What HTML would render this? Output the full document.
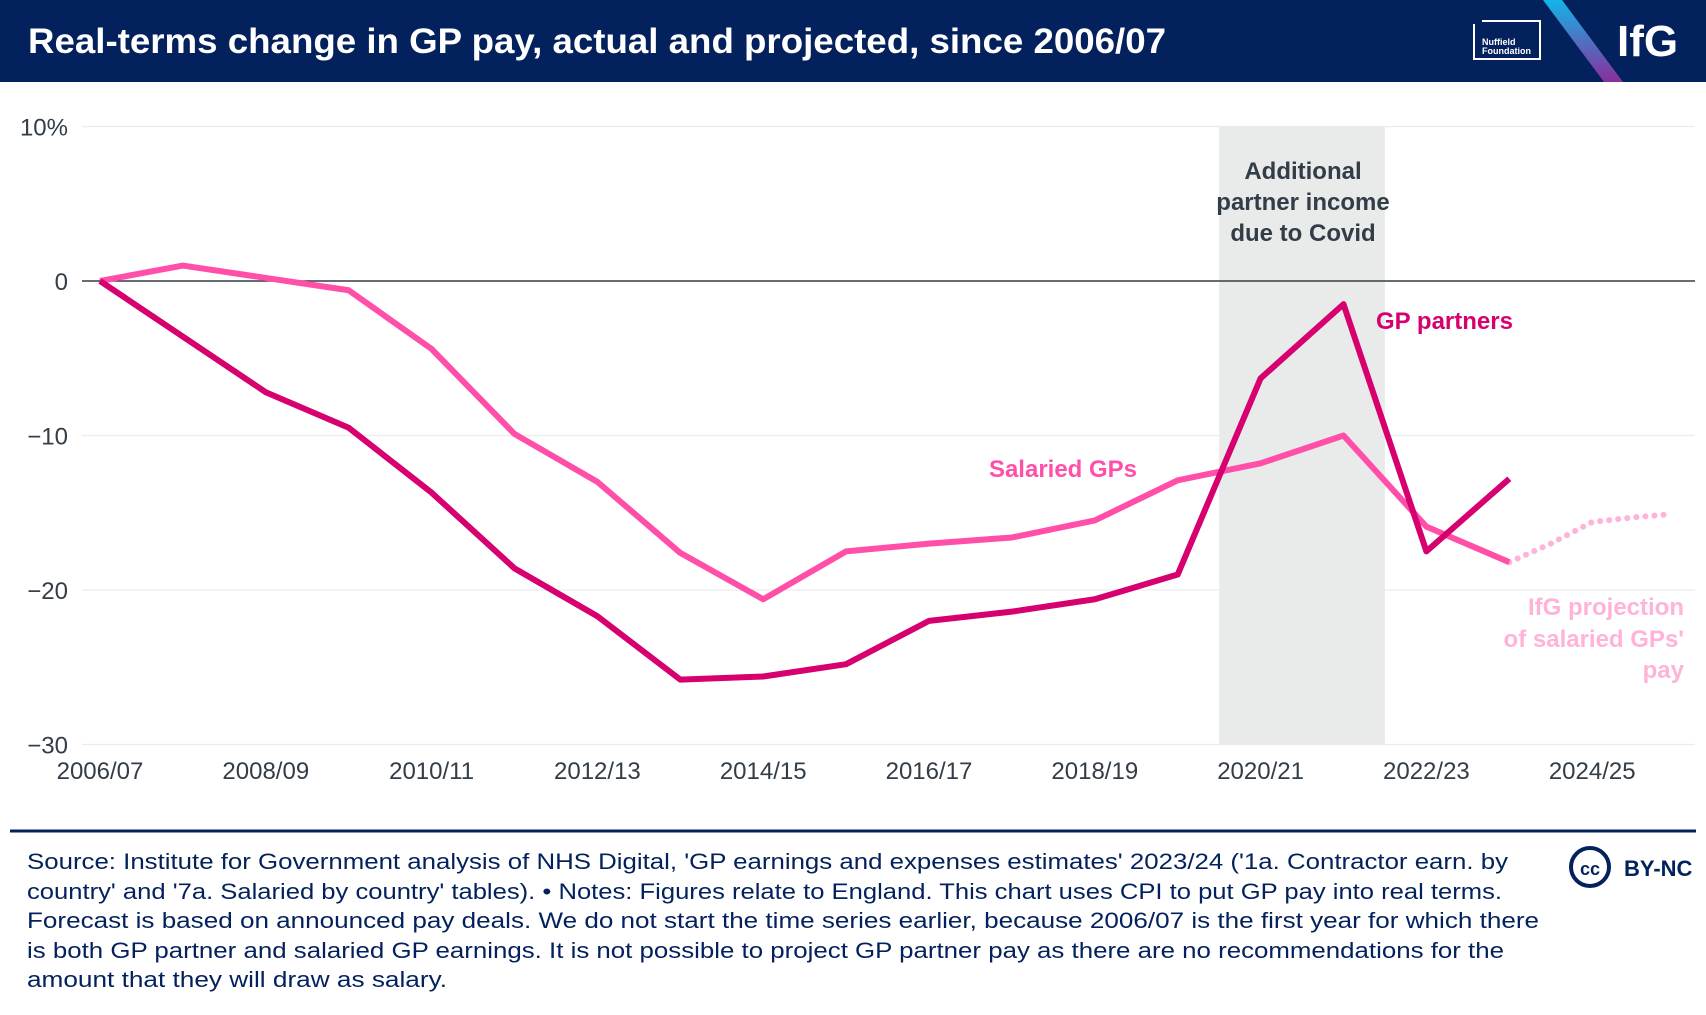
<!DOCTYPE html>
<html><head><meta charset="utf-8"><style>
body{margin:0;width:1706px;height:1010px;background:#fff;overflow:hidden;font-family:"Liberation Sans",sans-serif}
</style></head><body>
<svg width="1706" height="1010" xmlns="http://www.w3.org/2000/svg">
<rect x="0" y="0" width="1706" height="82" fill="#03215c"/>
<text x="28" y="53" fill="#fff" font-size="35" font-weight="bold" textLength="1138" lengthAdjust="spacingAndGlyphs">Real-terms change in GP pay, actual and projected, since 2006/07</text>
<g>
<path d="M1474 24 V59 H1540 V21 H1482" fill="none" stroke="#fff" stroke-width="2"/>
<text x="1482" y="45" fill="#fff" font-size="9" font-weight="bold">Nuffield</text>
<text x="1482" y="54" fill="#fff" font-size="9" font-weight="bold">Foundation</text>
</g>
<defs><linearGradient id="g" x1="0" y1="0" x2="0" y2="1"><stop offset="0" stop-color="#12b5e8"/><stop offset="1" stop-color="#8a2e9c"/></linearGradient></defs>
<polygon points="1543,0 1562,0 1623,82 1604,82" fill="url(#g)"/>
<text x="1617" y="56" fill="#fff" font-size="44" font-weight="bold">IfG</text>
<g id="plot"></g>
<line x1="10" y1="831" x2="1696" y2="831" stroke="#03215c" stroke-width="3"/>
<g font-size="22.5" fill="#03215c">
<text x="27" y="869" textLength="1481" lengthAdjust="spacingAndGlyphs">Source: Institute for Government analysis of NHS Digital, 'GP earnings and expenses estimates' 2023/24 ('1a. Contractor earn. by</text>
<text x="27" y="899" textLength="1475" lengthAdjust="spacingAndGlyphs">country' and '7a. Salaried by country' tables). • Notes: Figures relate to England. This chart uses CPI to put GP pay into real terms.</text>
<text x="27" y="928" textLength="1512" lengthAdjust="spacingAndGlyphs">Forecast is based on announced pay deals. We do not start the time series earlier, because 2006/07 is the first year for which there</text>
<text x="27" y="958" textLength="1477" lengthAdjust="spacingAndGlyphs">is both GP partner and salaried GP earnings. It is not possible to project GP partner pay as there are no recommendations for the</text>
<text x="27" y="987" textLength="420" lengthAdjust="spacingAndGlyphs">amount that they will draw as salary.</text>
</g>
<g>
<circle cx="1590" cy="867" r="19" fill="none" stroke="#03215c" stroke-width="4"/>
<text x="1590" y="875" text-anchor="middle" font-size="18" font-weight="bold" fill="#03215c">cc</text>
<text x="1624" y="876" font-size="22" font-weight="bold" fill="#03215c">BY-NC</text>
</g>
</svg>
<script>
const years=["2006/07","2008/09","2010/11","2012/13","2014/15","2016/17","2018/19","2020/21","2022/23","2024/25"];
const yTicks=[10,0,-10,-20,-30];
const partners=[0,-3.6,-7.2,-9.5,-13.7,-18.6,-21.7,-25.8,-25.6,-24.8,-22,-21.4,-20.6,-19,-6.3,-1.5,-17.5,-12.8];
const salaried=[0,1.0,0.2,-0.6,-4.4,-9.9,-13,-17.6,-20.6,-17.5,-17,-16.6,-15.5,-12.9,-11.8,-10,-15.9,-18.2];
const projX=[17,17.5,18,18.5,18.93];
const projY=[-18.2,-17,-15.6,-15.3,-15.1];
const shadeRange=[13.5,15.5];
const NS="http://www.w3.org/2000/svg";
const X=i=>100+i*82.9, Y=v=>281-v*15.45;
const g=document.getElementById('plot');
function mk(t,a,p){const e=document.createElementNS(NS,t);for(const k in a)e.setAttribute(k,a[k]);(p||g).appendChild(e);return e;}
const sh=mk('rect',{x:X(shadeRange[0]),y:Y(10),width:X(shadeRange[1])-X(shadeRange[0]),height:Y(-30)-Y(10),fill:'#e9eaea'});


yTicks.forEach(v=>{
 const l=mk('line',{x1:82,x2:1695,y1:Y(v),y2:Y(v),stroke:v===0?'#333d47':'#ececec','stroke-width':v===0?1.5:1.2});
 
 
 const t=mk('text',{x:68,y:Y(v)+9,'text-anchor':'end','font-size':24,fill:'#333d47'});
 t.textContent=v===10?'10%':(v<0?'−'+(-v):String(v));
 
 
});
years.forEach((y,i)=>{
 const t=mk('text',{x:X(i*2),y:779,'text-anchor':'middle','font-size':24,fill:'#333d47'});
 t.textContent=y;
 
 
});
function line(d,xs,col,name,extra){
 const p=mk('polyline',Object.assign({points:d.map((v,i)=>X(xs?xs[i]:i)+','+Y(v)).join(' '),fill:'none',stroke:col,'stroke-width':6,'stroke-linejoin':'round'},extra||{}));
 
 
}
line(projY,projX,'#ffb3d9','salaried-projection-line',{'stroke-dasharray':'0.1 9','stroke-linecap':'round'});
line(salaried,null,'#ff4fa8','salaried-gps-line');
line(partners,null,'#d6006f','gp-partners-line');
function txt(x,y,s,col,name,anchor){const t=mk('text',{x:x,y:y,'font-size':24,'font-weight':'bold',fill:col,'text-anchor':anchor||'start'});t.textContent=s;
 
 }
txt(1376,329,'GP partners','#d6006f','gp-partners-label');
txt(1063,477,'Salaried GPs','#ff4fa8','salaried-gps-label','middle');
txt(1303,179,'Additional','#333d47','covid-annotation','middle');
txt(1303,210,'partner income','#333d47','covid-annotation','middle');
txt(1303,241,'due to Covid','#333d47','covid-annotation','middle');
txt(1684,615,'IfG projection','#ffb3d9','projection-label','end');
txt(1684,647,"of salaried GPs'",'#ffb3d9','projection-label','end');
txt(1684,678,'pay','#ffb3d9','projection-label','end');
</script>
</body></html>
